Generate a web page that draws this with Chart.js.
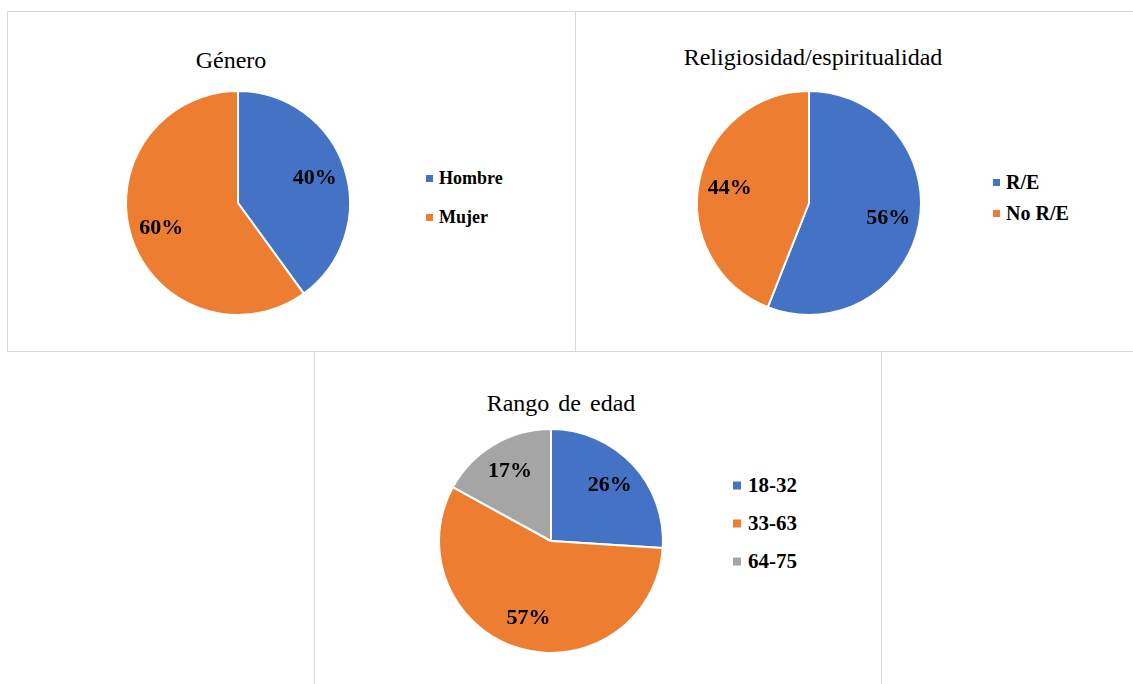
<!DOCTYPE html>
<html lang="es">
<head>
<meta charset="UTF-8">
<title>Género, religiosidad y edad</title>
<script src="https://cdn.jsdelivr.net/npm/chart.js"></script>
<style>
  body { margin:0; width:1133px; height:684px; background:#fff; position:relative; overflow:hidden;
         font-family:"Liberation Serif","Tinos","Times New Roman","DejaVu Serif",serif; color:#000; }
  .panel { position:absolute; border:1px solid #d9d9d9; box-sizing:border-box; }
  .titulo { position:absolute; font-size:24px; white-space:nowrap; transform:translate(-50%,-50%); line-height:1; }
  .pie { position:absolute; width:260px; height:260px; }
  .item { position:absolute; transform:translateY(-50%); display:flex; align-items:center; line-height:1;
          font-weight:bold; white-space:nowrap; }
  .marca { display:inline-block; }
</style>
</head>
<body>

<div class="panel" style="left:7px; top:11px; width:569px; height:341px;"></div>
<div class="panel" style="left:575px; top:11px; width:600px; height:341px;"></div>
<div class="panel" style="left:314px; top:351px; width:568px; height:400px;"></div>

<div class="titulo" style="left:231px; top:60px;">Género</div>
<div class="titulo" style="left:813px; top:57px;">Religiosidad/espiritualidad</div>
<div class="titulo" style="left:561px; top:403px; word-spacing:3px;">Rango de edad</div>

<canvas id="pie_genero" class="pie" style="left:108px; top:73px;"></canvas>
<canvas id="pie_religion" class="pie" style="left:679px; top:73px;"></canvas>
<canvas id="pie_edad" class="pie" style="left:421px; top:411px;"></canvas>

<div id="leyenda_genero"></div>
<div id="leyenda_religion"></div>
<div id="leyenda_edad"></div>

<script>
  // datos
  const generoLabels = ['Hombre', 'Mujer'];
  const generoValores = [40, 60];

  const religionLabels = ['R/E', 'No R/E'];
  const religionValores = [56, 44];

  const edadLabels = ['18-32', '33-63', '64-75'];
  const edadValores = [26, 57, 17];

  const colores = ['#4472C4', '#ED7D31', '#A5A5A5'];

  // etiquetas de porcentaje dentro de cada sector
  const etiquetas = {
    id: 'etiquetas',
    afterDatasetsDraw(chart) {
      const ctx = chart.ctx;
      const ds = chart.data.datasets[0];
      const total = ds.data.reduce((a, b) => a + b, 0);
      ctx.save();
      ctx.font = 'bold 22px "Liberation Serif", "Tinos", "DejaVu Serif", serif';
      ctx.fillStyle = '#000';
      ctx.textAlign = 'center';
      ctx.textBaseline = 'middle';
      chart.getDatasetMeta(0).data.forEach((arc, i) => {
        const p = arc.getProps(['x', 'y', 'startAngle', 'endAngle', 'outerRadius']);
        const medio = (p.startAngle + p.endAngle) / 2;
        const r = p.outerRadius * 0.72;
        const txt = Math.round(ds.data[i] / total * 100) + '%';
        ctx.fillText(txt, p.x + Math.cos(medio) * r, p.y + Math.sin(medio) * r);
      });
      ctx.restore();
    }
  };

  function crearPie(id, labels, valores) {
    new Chart(document.getElementById(id), {
      type: 'pie',
      data: {
        labels: labels,
        datasets: [{
          data: valores,
          backgroundColor: colores.slice(0, valores.length),
          borderColor: '#ffffff',
          borderWidth: 2
        }]
      },
      options: {
        responsive: false,
        animation: false,
        radius: 112,
        plugins: {
          legend: { display: false },
          tooltip: { enabled: false }
        }
      },
      plugins: [etiquetas]
    });
  }

  function crearLeyenda(id, labels, x, ys, tam, marca) {
    const cont = document.getElementById(id);
    labels.forEach((lab, i) => {
      const item = document.createElement('div');
      item.className = 'item';
      item.style.left = x + 'px';
      item.style.top = ys[i] + 'px';
      item.style.fontSize = tam + 'px';
      const m = document.createElement('span');
      m.className = 'marca';
      m.style.width = marca + 'px';
      m.style.height = marca + 'px';
      m.style.marginRight = (marca - 1) + 'px';
      m.style.background = colores[i];
      item.appendChild(m);
      item.appendChild(document.createTextNode(lab));
      cont.appendChild(item);
    });
  }

  crearPie('pie_genero', generoLabels, generoValores);
  crearPie('pie_religion', religionLabels, religionValores);
  crearPie('pie_edad', edadLabels, edadValores);

  crearLeyenda('leyenda_genero', generoLabels, 426, [178, 217], 18, 7);
  crearLeyenda('leyenda_religion', religionLabels, 993, [182, 213], 20, 7);
  crearLeyenda('leyenda_edad', edadLabels, 733, [485, 523, 561], 21, 8);
</script>
</body>
</html>
